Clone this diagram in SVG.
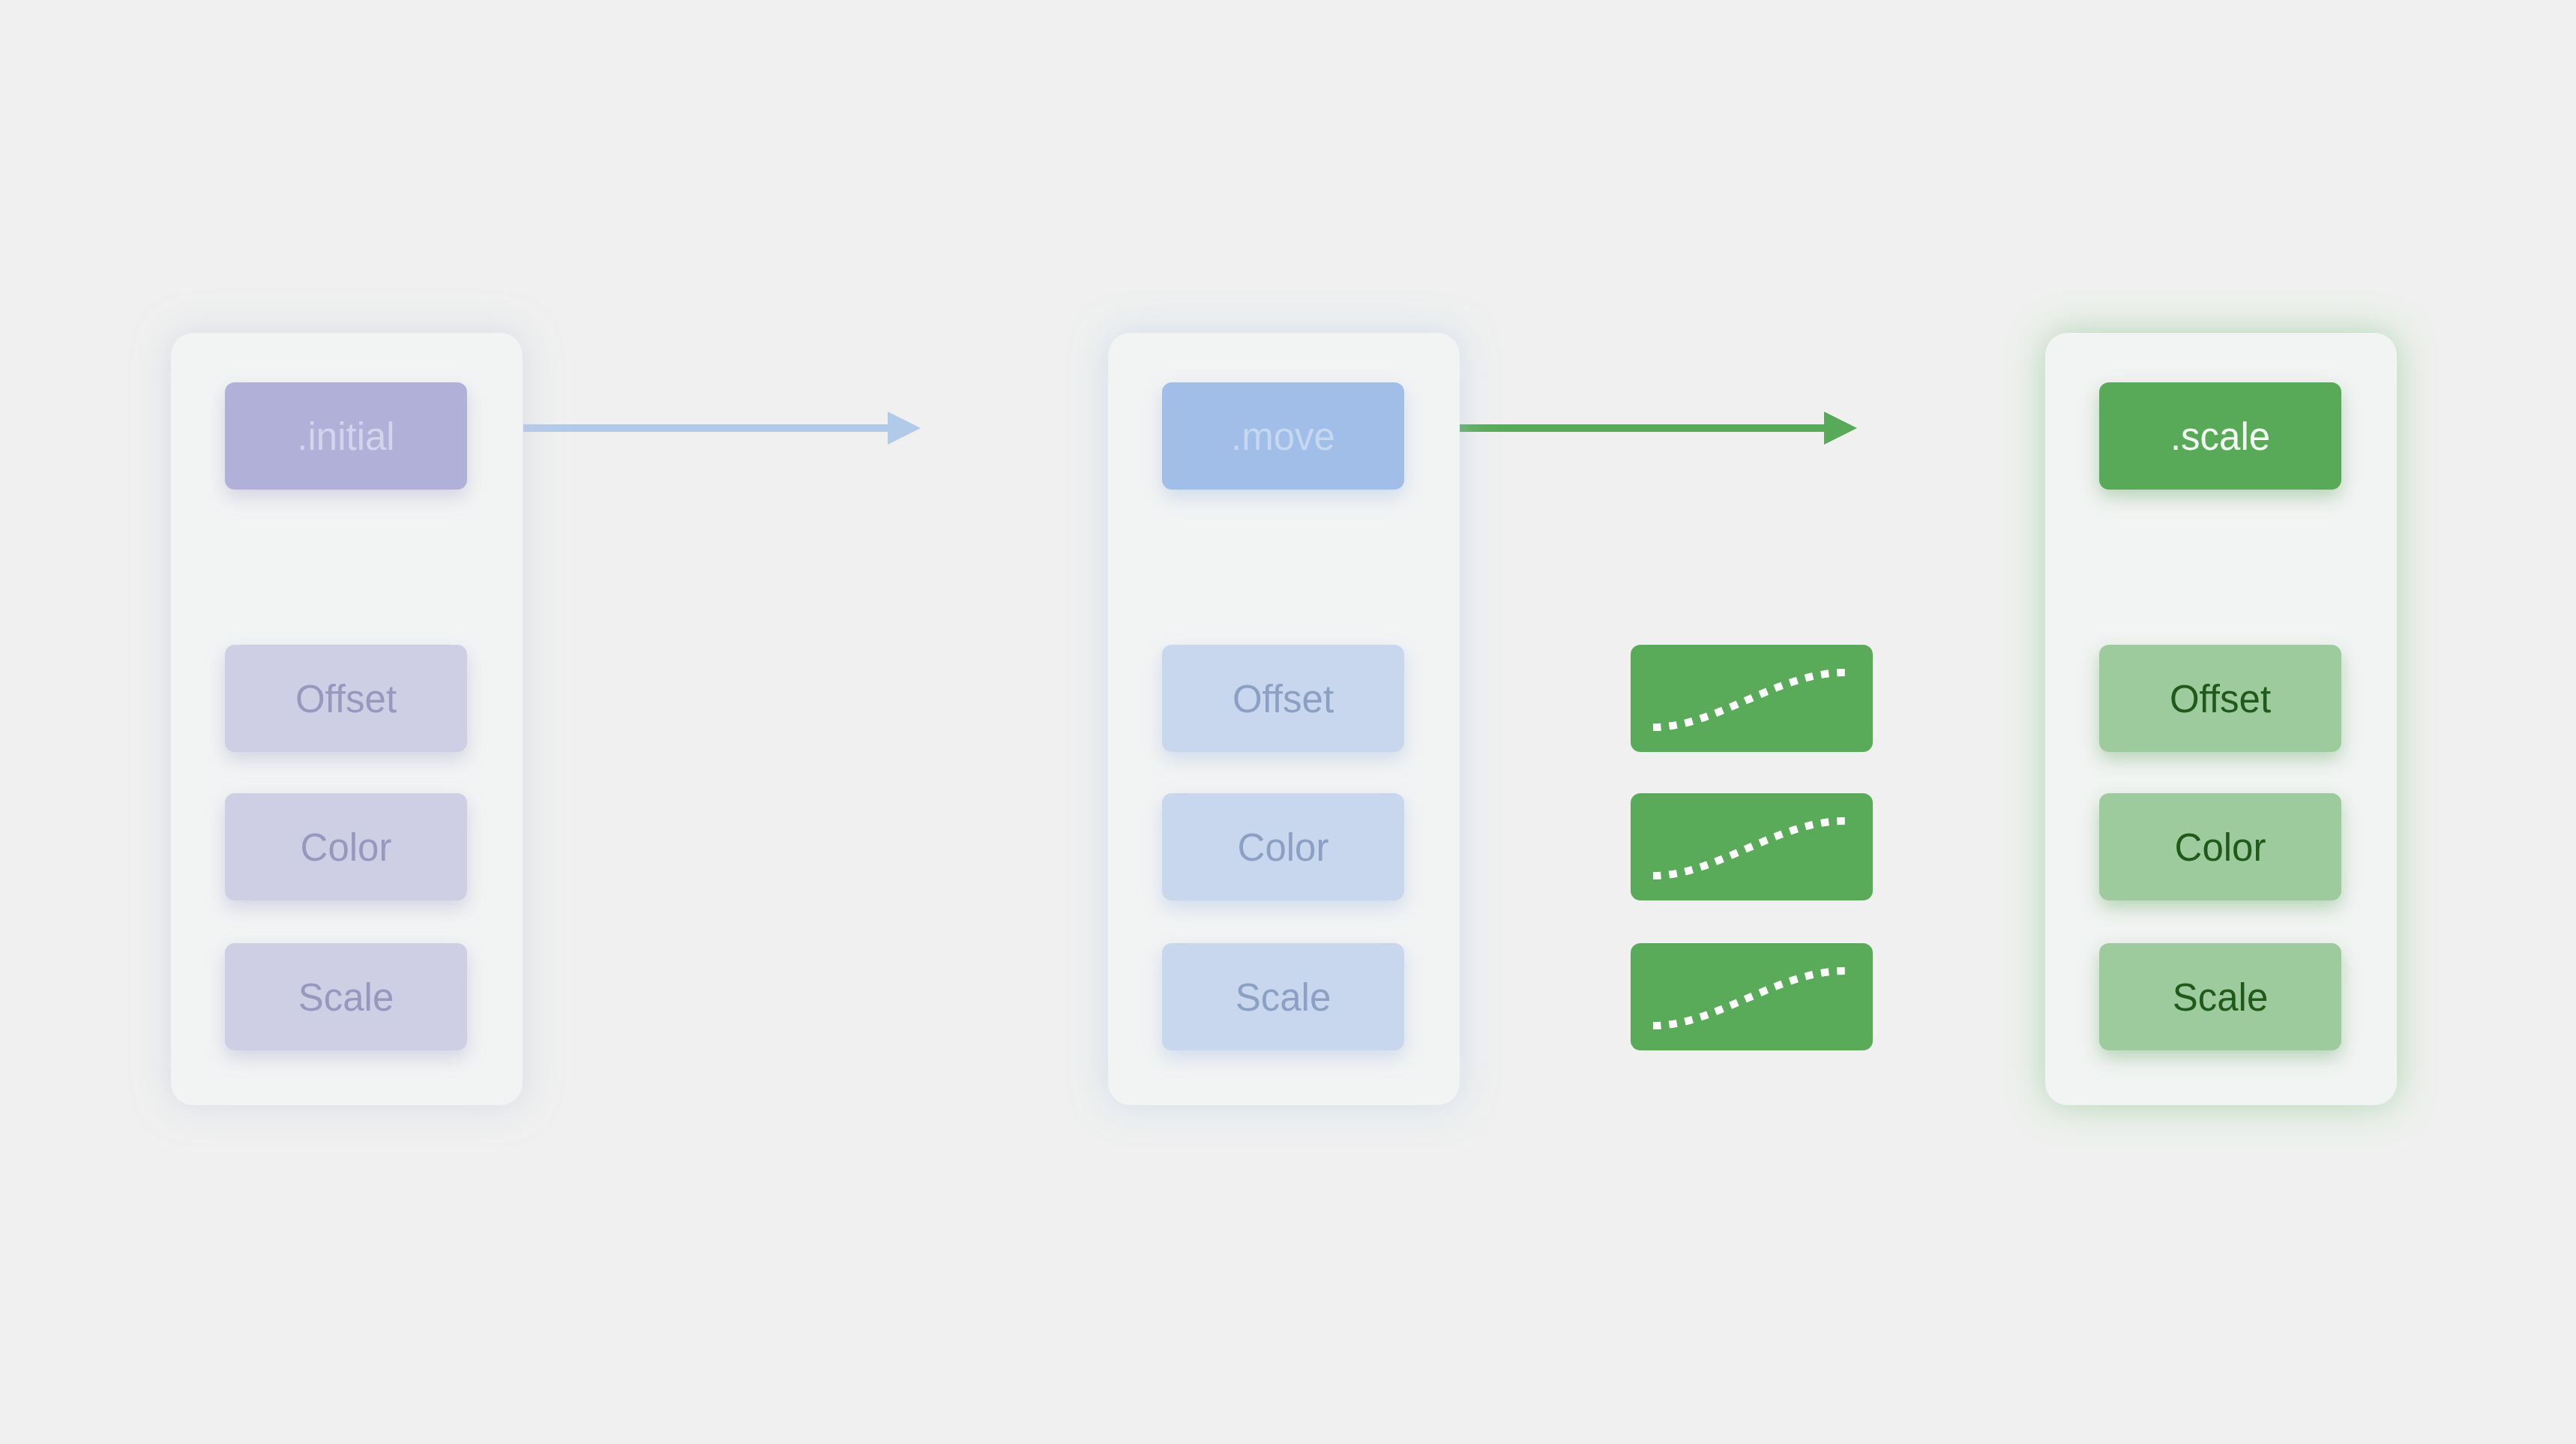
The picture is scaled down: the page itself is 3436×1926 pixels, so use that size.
<svg xmlns="http://www.w3.org/2000/svg" width="3436" height="1926" viewBox="0 0 3436 1926">
<defs>
<style>
.card{fill:#f2f3f3}
.lbl{font-family:"Liberation Sans",Arial,Helvetica,sans-serif;font-size:51px;text-anchor:middle}
.curve{fill:none;stroke:#ffffff;stroke-width:10;stroke-linecap:butt}
</style>
<filter id="glowP" x="-30%" y="-20%" width="160%" height="140%"><feDropShadow dx="0" dy="0" stdDeviation="24" flood-color="#c4c4dc" flood-opacity="0.5"/></filter>
<filter id="glowB" x="-30%" y="-20%" width="160%" height="140%"><feDropShadow dx="0" dy="0" stdDeviation="24" flood-color="#b8cbe8" flood-opacity="0.5"/></filter>
<filter id="glowG" x="-30%" y="-20%" width="160%" height="140%"><feDropShadow dx="0" dy="0" stdDeviation="24" flood-color="#7cc07c" flood-opacity="0.55"/></filter>
<filter id="shP" x="-30%" y="-40%" width="160%" height="200%"><feDropShadow dx="0" dy="10" stdDeviation="12" flood-color="#9a9ac8" flood-opacity="0.35"/></filter>
<filter id="shB" x="-30%" y="-40%" width="160%" height="200%"><feDropShadow dx="0" dy="10" stdDeviation="12" flood-color="#90b0e0" flood-opacity="0.35"/></filter>
<filter id="shG" x="-30%" y="-40%" width="160%" height="200%"><feDropShadow dx="0" dy="10" stdDeviation="12" flood-color="#4a9a4a" flood-opacity="0.35"/></filter>
<marker id="headB" markerUnits="userSpaceOnUse" markerWidth="46" markerHeight="44" refX="2" refY="22" orient="auto"><path d="M0,0 L44,22 L0,44 Z" fill="#b2caea"/></marker>
<marker id="headG" markerUnits="userSpaceOnUse" markerWidth="46" markerHeight="44" refX="2" refY="22" orient="auto"><path d="M0,0 L44,22 L0,44 Z" fill="#58aa58"/></marker>
<path id="ease" d="M 2205 970 C 2290 970, 2370 897, 2461 897" pathLength="100" stroke-dasharray="3.9 4.1"/>
</defs>
<rect x="0" y="0" width="3436" height="1926" fill="#eff0ef"/>

<g id="connectors">
<line x1="698" y1="571" x2="1186" y2="571" stroke="#b2caea" stroke-width="10" marker-end="url(#headB)"/>
<line x1="1946" y1="571" x2="2435" y2="571" stroke="#58aa58" stroke-width="10" marker-end="url(#headG)"/>
</g>

<g id="state-initial">
<rect class="card" x="228" y="444" width="469" height="1030" rx="30" filter="url(#glowP)"/>
<g id="initial">
<rect x="300" y="510" width="323" height="143" rx="13" fill="#b0b0d8" filter="url(#shP)"/>
<text class="lbl" x="461.5" y="600" fill="#d4d4ec">.initial</text>
</g>
<g id="initial-offset">
<rect x="300" y="860" width="323" height="143" rx="13" fill="#cecfe4" filter="url(#shP)"/>
<text class="lbl" x="461.5" y="950" fill="#9898bf">Offset</text>
</g>
<g id="initial-color">
<rect x="300" y="1058" width="323" height="143" rx="13" fill="#cecfe4" filter="url(#shP)"/>
<text class="lbl" x="461.5" y="1148" fill="#9898bf">Color</text>
</g>
<g id="initial-scale">
<rect x="300" y="1258" width="323" height="143" rx="13" fill="#cecfe4" filter="url(#shP)"/>
<text class="lbl" x="461.5" y="1348" fill="#9898bf">Scale</text>
</g>
</g>

<g id="state-move">
<rect class="card" x="1478" y="444" width="469" height="1030" rx="30" filter="url(#glowB)"/>
<g id="move">
<rect x="1550" y="510" width="323" height="143" rx="13" fill="#a0bee8" filter="url(#shB)"/>
<text class="lbl" x="1711.5" y="600" fill="#c6d7f0">.move</text>
</g>
<g id="move-offset">
<rect x="1550" y="860" width="323" height="143" rx="13" fill="#c8d7ee" filter="url(#shB)"/>
<text class="lbl" x="1711.5" y="950" fill="#8ca0c3">Offset</text>
</g>
<g id="move-color">
<rect x="1550" y="1058" width="323" height="143" rx="13" fill="#c8d7ee" filter="url(#shB)"/>
<text class="lbl" x="1711.5" y="1148" fill="#8ca0c3">Color</text>
</g>
<g id="move-scale">
<rect x="1550" y="1258" width="323" height="143" rx="13" fill="#c8d7ee" filter="url(#shB)"/>
<text class="lbl" x="1711.5" y="1348" fill="#8ca0c3">Scale</text>
</g>
</g>

<g id="curves">
<g id="curve-offset">
<rect x="2175" y="860" width="323" height="143" rx="13" fill="#59aa59"/>
<use href="#ease" class="curve"/>
</g>
<g id="curve-color">
<rect x="2175" y="1058" width="323" height="143" rx="13" fill="#59aa59"/>
<use href="#ease" class="curve" transform="translate(0,198)"/>
</g>
<g id="curve-scale">
<rect x="2175" y="1258" width="323" height="143" rx="13" fill="#59aa59"/>
<use href="#ease" class="curve" transform="translate(0,398)"/>
</g>
</g>

<g id="state-scale">
<rect class="card" x="2728" y="444" width="469" height="1030" rx="30" filter="url(#glowG)"/>
<g id="scale">
<rect x="2800" y="510" width="323" height="143" rx="13" fill="#58aa58" filter="url(#shG)"/>
<text class="lbl" x="2961.5" y="600" fill="#f2fff2">.scale</text>
</g>
<g id="scale-offset">
<rect x="2800" y="860" width="323" height="143" rx="13" fill="#9dcb9d" filter="url(#shG)"/>
<text class="lbl" x="2961.5" y="950" fill="#1f5a1a">Offset</text>
</g>
<g id="scale-color">
<rect x="2800" y="1058" width="323" height="143" rx="13" fill="#9dcb9d" filter="url(#shG)"/>
<text class="lbl" x="2961.5" y="1148" fill="#1f5a1a">Color</text>
</g>
<g id="scale-scale">
<rect x="2800" y="1258" width="323" height="143" rx="13" fill="#9dcb9d" filter="url(#shG)"/>
<text class="lbl" x="2961.5" y="1348" fill="#1f5a1a">Scale</text>
</g>
</g>
</svg>
